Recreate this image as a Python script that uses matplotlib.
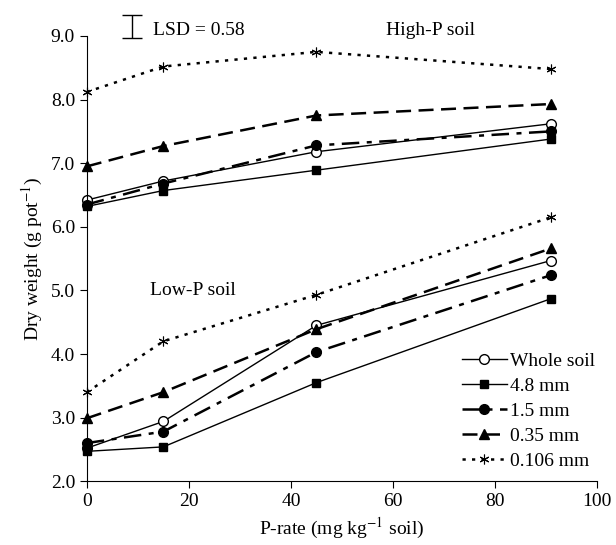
import numpy as np
import matplotlib
matplotlib.use("Agg")
import matplotlib.pyplot as plt

plt.rcParams['font.family'] = ['Liberation Serif', 'DejaVu Serif']
plt.rcParams['mathtext.fontset'] = 'stix'

# P-rate (mg/kg soil)
p_rate = [0, 15, 45, 91]

# high-P soil
high_whole = [6.42, 6.72, 7.18, 7.62]
high_48 = [6.32, 6.57, 6.89, 7.38]
high_15 = [6.35, 6.68, 7.28, 7.50]
high_035 = [6.95, 7.27, 7.75, 7.93]
high_0106 = [8.12, 8.52, 8.75, 8.48]

# low-P soil
low_whole = [2.52, 2.94, 4.45, 5.47]
low_48 = [2.47, 2.54, 3.55, 4.87]
low_15 = [2.60, 2.78, 4.03, 5.24]
low_035 = [2.99, 3.40, 4.39, 5.66]
low_0106 = [3.40, 4.20, 4.93, 6.15]

labels = ["Whole soil", "4.8 mm", "1.5 mm", "0.35 mm", "0.106 mm"]

fig = plt.figure(figsize=(6.16, 5.45), dpi=100)
ax = fig.add_axes([0.141, 0.117, 0.828, 0.817])

styles = [
    dict(color='black', lw=1.0, ls='-', marker='o', mfc='white', mec='black', ms=7),
    dict(color='black', lw=1.0, ls='-', marker='s', mfc='black', mec='black', ms=5.5),
    dict(color='black', lw=1.8, ls=(0, (7, 3, 2, 3)), marker='o', mfc='black', mec='black', ms=7),
    dict(color='black', lw=1.8, ls=(0, (6, 3)), marker='^', mfc='black', mec='black', ms=7),
    dict(color='black', lw=1.8, ls=(0, (1.3, 2.5)), marker=(6, 2, 0), mfc='black', mec='black', ms=7, mew=0.8),
]

high = [high_whole, high_48, high_15, high_035, high_0106]
low = [low_whole, low_48, low_15, low_035, low_0106]

for i in range(5):
    ax.plot(p_rate, high[i], clip_on=False, **styles[i])
    ax.plot(p_rate, low[i], label=labels[i], clip_on=False, **styles[i])

ax.set_xlim(0, 100)
ax.set_ylim(2.0, 9.0)
ax.set_xticks(np.arange(0, 101, 20))
ax.set_yticks(np.arange(2.0, 9.01, 1.0))
ax.set_yticklabels([f"{v:.1f}" for v in np.arange(2.0, 9.01, 1.0)])
for s in ['top', 'right']:
    ax.spines[s].set_visible(False)
ax.tick_params(direction='out', length=5, labelsize=14)

ax.set_xlabel("P-rate (mg kg$^{-1}$ soil)", fontsize=14)
ax.set_ylabel("Dry weight (g pot$^{-1}$)", fontsize=14)

# LSD bar
ax.errorbar([8.8], [9.15], yerr=[[0.18], [0.18]], color='black', lw=1.0,
            capsize=7, capthick=1.0, clip_on=False)
ax.text(12.9, 9.08, "LSD = 0.58", fontsize=14, va='center', ha='left')
ax.text(67.3, 9.08, "High-P soil", fontsize=14, va='center', ha='center')
ax.text(20.8, 5.0, "Low-P soil", fontsize=14, va='center', ha='center')

ax.legend(loc='lower right', bbox_to_anchor=(1.02, 0.0), frameon=False, fontsize=14,
          handlelength=2.3, handletextpad=0.2, labelspacing=0.38, borderaxespad=0.2)

fig.savefig("out.png", dpi=100)
